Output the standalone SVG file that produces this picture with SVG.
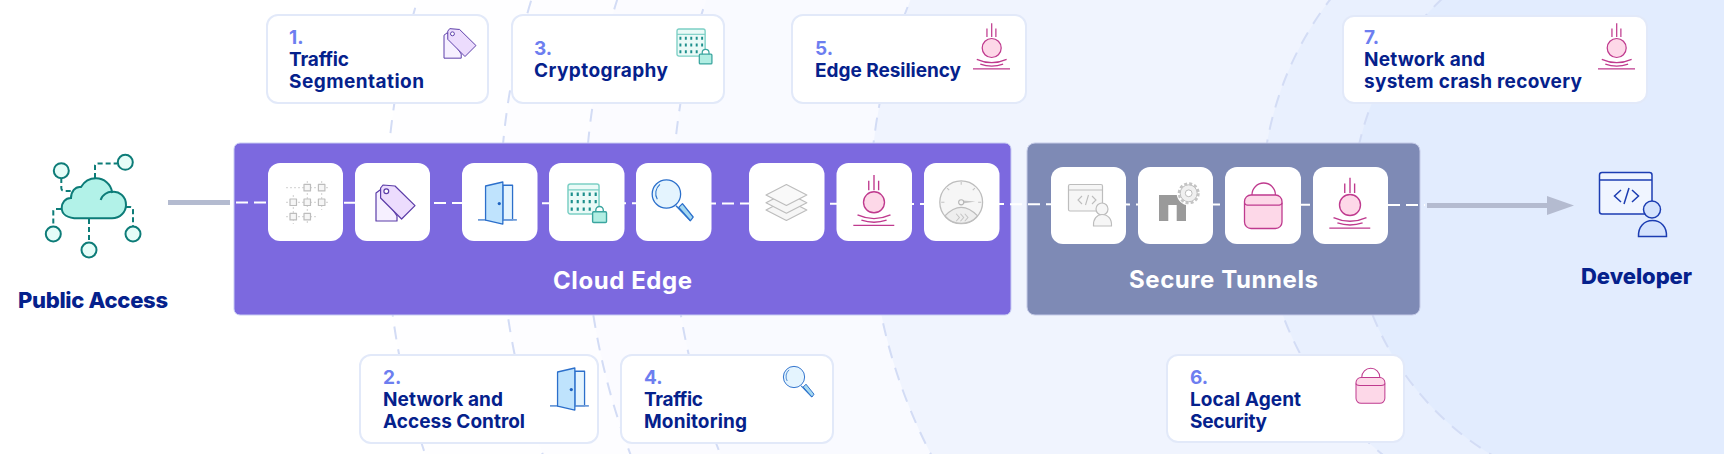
<svg xmlns="http://www.w3.org/2000/svg" xmlns:xlink="http://www.w3.org/1999/xlink" width="1724" height="454" viewBox="0 0 1724 454">
<style>
text{font-family:"Inter","Noto Sans","Liberation Sans",sans-serif}
.t{font-size:19px;font-weight:700;fill:#05218c}
.n{font-size:19px;font-weight:700;fill:#6d7ef0}
.big{font-size:22px;font-weight:800;fill:#05218c}
.pl{font-size:24px;font-weight:700;fill:#fff}
.card{fill:#fff;stroke:#e2e9f9;stroke-width:2}
.tile{fill:#fff}
.arc{stroke:#d3dcf5;stroke-width:2;stroke-dasharray:13 10}
.tag1{fill:#f6f0ff;stroke:#5b3ca8;stroke-width:1.2;stroke-linejoin:round}
.tag2{fill:#ecdcfd;stroke:#5b3ca8;stroke-width:1.2;stroke-linejoin:round}
.blue{fill:#bfe3fd;stroke:#2b6fcb;stroke-width:1.2;stroke-linejoin:round}
.blue2{fill:#e4f4fe;stroke:#2b6fcb;stroke-width:1.2;stroke-linejoin:round}
.pink{fill:#fdd8e8;stroke:#bf3a8e;stroke-width:1.3;stroke-linejoin:round}
.pl2{fill:none;stroke:#bf3a8e;stroke-width:1.3}
.grey{fill:#f6f6f6;stroke:#bdbdbd;stroke-width:1.2;stroke-linejoin:round}
.grl{fill:none;stroke:#c4c4c4;stroke-width:.8;stroke-dasharray:2 2}
.teal{fill:#e5fdf8;stroke:#0d7c78;stroke-width:2}
.tl{fill:none;stroke:#0d7c78;stroke-width:2;stroke-dasharray:5 3}
.dev{fill:#f0f5ff;stroke:#1c3db2;stroke-width:1.5;stroke-linejoin:round}
.dev2{fill:#d5e3fd;stroke:#1c3db2;stroke-width:1.5}
.devl{fill:none;stroke:#1c3db2;stroke-width:1.5}
</style>
<defs>
<g id="i-tag">
<path class="tag1" d="M4,7 L0,10 V38 H21 V33 Z"/>
<path class="tag2" d="M4.6,5 V15 L25.6,36 L39,22.6 L19,3 L7,2 Z"/>
<circle cx="10.3" cy="8.3" r="2.4" fill="#fff" stroke="#5b3ca8" stroke-width="1.2"/>
</g>
<g id="i-door">
<path class="blue2" d="M23,3 H32 V35 H23 Z"/>
<path d="M0,35 H36" stroke="#6d9bd9" stroke-width="1.6" fill="none"/>
<path class="blue" d="M7,3.7 L23,0 V39 L7,35.3 Z"/>
<circle cx="19.7" cy="20" r="1.5" fill="#1e62c0"/>
</g>
<g id="i-crypto">
<rect x="0" y="0" width="29" height="28" rx="2" fill="#eafaf7" stroke="#7ccfc5" stroke-width="1.4"/>
<path d="M0,5.5 H29" stroke="#7ccfc5" stroke-width="1.2"/>
<path d="M2.5,9.5 H27 M2.5,16.5 H27 M2.5,23.5 H24" stroke="#1d8f8c" stroke-width="3.2" stroke-dasharray="2 3.6" fill="none"/>
<path d="M26,27 V24.5 a3.5,3.5 0 0 1 7,0 V27" fill="#fff" stroke="#3aa59f" stroke-width="1.3"/>
<rect x="23" y="26" width="13" height="10" rx="1" fill="#b1eee3" stroke="#3aa59f" stroke-width="1.3"/>
</g>
<g id="i-mag">
<path d="M9,11 L22.5,25" stroke="#2b74cc" stroke-width="1.4"/>
<path class="blue" style="fill:#a5d8f0" d="M11.5,12.5 L15,9 L25,21.5 L22.5,25 Z"/>
<circle class="blue2" r="13.3"/>
<path d="M-8.5,5 A11,11 0 0 1 -6,-9" fill="none" stroke="#2b74cc" stroke-width="1"/>
</g>
<g id="i-ball">
<path class="pl2" d="M0,-26 V-11.5 M-5,-20.5 V-11.5 M4.4,-20.5 V-11.5"/>
<circle class="pink" r="10"/>
<path class="pl2" d="M-15.7,12 Q0,19 15.7,12 M-12,17 Q0,21 12,17 M-19.7,22 H19.3"/>
</g>
<g id="i-lock">
<path class="pl2" d="M7.5,19 V13 a11.7,11.7 0 0 1 23.4,0 V19"/>
<rect class="pink" x="0" y="13.3" width="37.5" height="33.5" rx="6.5"/>
<path class="pl2" d="M0,21 Q0,23.5 5,23.5 H32.5 Q37.5,23.5 37.5,21"/>
</g>
</defs>

<rect width="1724" height="454" fill="#fff"/>
<g id="background">
<circle class="arc" cx="1136" cy="215" r="750" fill="#fefeff"/>
<circle class="arc" cx="1220" cy="210" r="720" fill="#fdfdff"/>
<circle class="arc" cx="1275" cy="208" r="690" fill="#fbfbff"/>
<circle class="arc" cx="1322" cy="208" r="650" fill="#f9faff"/>
<circle class="arc" cx="1410" cy="205" r="540" fill="#f0f4fe"/>
<circle class="arc" cx="1591" cy="200" r="329" fill="#e9f0fe"/>
<circle class="arc" cx="1640" cy="208" r="288" fill="#e2ecfe"/>
</g>

<g id="panel-cloud-edge"><rect x="234" y="143" width="777" height="172" rx="6" fill="#7c69df" stroke="#c8ccf3" stroke-width="1"/></g>
<g id="panel-secure-tunnels"><rect x="1027" y="143" width="393" height="172" rx="8" fill="#7e8ab5" stroke="#c5cbe8" stroke-width="1"/></g>

<g id="connectors">
<path d="M168,202.5 H230" stroke="#b4bbd0" stroke-width="5" fill="none"/>
<path d="M236,202.5 L1425,205" stroke="#fff" stroke-width="2" stroke-dasharray="12 6" fill="none"/>
<path d="M1427,205.5 H1550" stroke="#b4bbd0" stroke-width="5" fill="none"/>
<path d="M1547,196 L1574,205.5 L1547,215 Z" fill="#b4bbd0"/>
</g>

<g id="node-public-access">
<path class="tl" d="M61.3,178 V188 Q61.3,191 65,191 H71 M95,178 V166 Q95,163.5 98,163.5 H117 M61,209 H55 Q53.3,209 53.3,211 V226 M89,219 V242 M126,207 H130 Q133,207 133,210 V226"/>
<path d="M78,218.3 H112 C120,218.3 126,212 126,205 C126,196 119,191 112,192 C111,184 104,178.3 96,178.3 C89,178.3 84,182 81,187 C75,186 71,192 71,198 C65,198 61.7,203 61.7,208 C61.7,214 67,218.3 78,218.3 Z" fill="#b2f2e8" stroke="#0d7c78" stroke-width="2"/>
<path d="M100.7,200 C102,195 108,191 113,192" fill="none" stroke="#0d7c78" stroke-width="2"/>
<circle class="teal" cx="61.3" cy="170.7" r="7.5"/>
<circle class="teal" cx="125.3" cy="162.3" r="7.5"/>
<circle class="teal" cx="53.3" cy="234" r="7.5"/>
<circle class="teal" cx="89" cy="250" r="7.5"/>
<circle class="teal" cx="133" cy="234" r="7.5"/>
<text class="big" x="18" y="308" textLength="150" lengthAdjust="spacing">Public Access</text>
</g>

<g id="tile-fabric">
<rect class="tile" x="268" y="163" width="75" height="78" rx="12"/>
<path class="grl" d="M286,187.7 H330 M286,202.3 H330 M286,216.7 H316 M293.3,195 V224 M307.3,181 V224 M321.7,181 V210"/>
<rect class="grey" x="304" y="184.4" width="6.5" height="6.5"/><rect class="grey" x="318.4" y="184.4" width="6.5" height="6.5"/>
<rect class="grey" x="290" y="199" width="6.5" height="6.5"/><rect class="grey" x="304" y="199" width="6.5" height="6.5"/><rect class="grey" x="318.4" y="199" width="6.5" height="6.5"/>
<rect class="grey" x="290" y="213.4" width="6.5" height="6.5"/><rect class="grey" x="304" y="213.4" width="6.5" height="6.5"/>
</g>
<g id="tile-tag"><rect class="tile" x="355" y="163" width="75" height="78" rx="12"/><use href="#i-tag" x="376" y="183"/></g>
<g id="tile-door"><rect class="tile" x="462" y="163" width="75.5" height="78" rx="12"/><use href="#i-door" transform="translate(478,182) scale(1.08)"/></g>
<g id="tile-crypto"><rect class="tile" x="549" y="163" width="75.5" height="78" rx="12"/><use href="#i-crypto" transform="translate(568,184) scale(1.07)"/></g>
<g id="tile-mag"><rect class="tile" x="636" y="163" width="75.5" height="78" rx="12"/><use href="#i-mag" transform="translate(666.4,194) scale(1.07)"/></g>
<g id="tile-layers">
<rect class="tile" x="749" y="163" width="75.5" height="78" rx="12"/>
<path class="grey" d="M766,210 L786.4,199.5 L806.8,210 L786.4,220.5 Z"/>
<path class="grey" d="M766,202.7 L786.4,192.2 L806.8,202.7 L786.4,213.2 Z"/>
<path class="grey" style="fill:#f9f9f9" d="M766,195 L786.4,184.5 L806.8,195 L786.4,205.5 Z"/>
</g>
<g id="tile-ball"><rect class="tile" x="836.5" y="163" width="75.5" height="78" rx="12"/><use href="#i-ball" transform="translate(874,202.3) scale(1.05)"/></g>
<g id="tile-gauge">
<rect class="tile" x="924" y="163" width="75.5" height="78" rx="12"/>
<g transform="translate(961.2,202.3) scale(1.07) translate(-926.7,-202.3)">
<circle class="grey" cx="926.7" cy="202.3" r="20"/>
<path class="grey" style="fill:#eee" d="M911.5,215 Q926.7,199 942,215 A20,20 0 0 1 911.5,215 Z"/>
<path d="M926.7,183 V186 M908,202.3 H911 M942.5,202.3 H945.5 M913.5,189 L915.5,191 M939.5,189 L937.5,191" stroke="#c4c4c4" fill="none"/>
<path d="M925,200.5 L940,201.5 L925,204 Z" fill="#c4c4c4"/>
<circle cx="926.7" cy="202.3" r="2.4" fill="#f6f6f6" stroke="#b5b5b5"/>
<path d="M922,213 l3,3.5 l-3,3.5 M926,213 l3,3.5 l-3,3.5 M930,213 l3,3.5 l-3,3.5" fill="none" stroke="#c4c4c4"/>
</g>
</g>
<text class="pl" id="label-cloud-edge" x="553" y="289" textLength="139" lengthAdjust="spacing">Cloud Edge</text>

<g id="tile-dev-grey">
<rect class="tile" x="1051" y="167" width="75" height="77" rx="12"/>
<rect class="grey" x="1068.5" y="184.5" width="34" height="26.5" rx="1.5"/>
<path d="M1068.5,190 H1102.5" stroke="#bdbdbd" stroke-width="1.2"/>
<path d="M1082,196 L1078,200 L1082,204 M1092,196 L1096,200 L1092,204 M1088.5,195 L1085.5,205" fill="none" stroke="#bdbdbd" stroke-width="1.1"/>
<circle class="grey" cx="1102" cy="209" r="6"/>
<path class="grey" d="M1093.5,226 C1093,219 1097,214.5 1102,214.5 C1108,214.5 1112,219 1111.5,226 Z"/>
</g>
<g id="tile-n-gear">
<rect class="tile" x="1138" y="167" width="75" height="77" rx="12"/>
<path d="M1159,195 H1178 Q1186,196 1186,205 V221 H1176.7 V205 H1168.3 V221 H1159 Z" fill="#9a9a9a"/>
<circle cx="1188.7" cy="193.3" r="12" fill="#fff"/>
<circle cx="1188.7" cy="193.3" r="8.5" fill="#f0f0f0" stroke="#bdbdbd"/>
<circle cx="1188.7" cy="193.3" r="9.7" fill="none" stroke="#c4c4c4" stroke-width="2.6" stroke-dasharray="3 2.1"/>
<circle cx="1188.7" cy="193.3" r="3.4" fill="#fff" stroke="#bdbdbd"/>
</g>
<g id="tile-lock"><rect class="tile" x="1225" y="167" width="76" height="77" rx="12"/><use href="#i-lock" x="1244.5" y="181.7"/></g>
<g id="tile-ball-2"><rect class="tile" x="1313" y="167" width="75" height="77" rx="12"/><use href="#i-ball" transform="translate(1350,205) scale(1.05)"/></g>
<text class="pl" id="label-secure-tunnels" x="1129" y="288" textLength="189" lengthAdjust="spacing">Secure Tunnels</text>

<g id="node-developer">
<rect class="dev" x="1599.5" y="172.5" width="52.5" height="41.5" rx="2.5"/>
<path class="devl" d="M1599.5,180 H1652"/>
<path class="devl" d="M1621,190 L1614.5,196 L1621,202 M1632,190 L1638.5,196 L1632,202 M1629,188 L1624,204"/>
<circle class="dev2" cx="1652" cy="209.5" r="8.5"/>
<path class="dev2" d="M1638.5,236.5 C1638,227 1644,220.5 1652.5,220.5 C1661,220.5 1667,227 1666.5,236.5 Z"/>
<text class="big" x="1581" y="284" textLength="111" lengthAdjust="spacing">Developer</text>
</g>

<g id="card-1">
<rect class="card" x="267" y="15" width="221" height="88" rx="11"/>
<text class="n" x="289" y="44">1.</text>
<text class="t" x="289" y="66" textLength="60" lengthAdjust="spacing">Traffic</text>
<text class="t" x="289" y="88" textLength="135" lengthAdjust="spacing">Segmentation</text>
<use href="#i-tag" transform="translate(444,27) scale(.82)"/>
</g>
<g id="card-3">
<rect class="card" x="512" y="15" width="212" height="88" rx="11"/>
<text class="n" x="534" y="55">3.</text>
<text class="t" x="534" y="77" textLength="134" lengthAdjust="spacing">Cryptography</text>
<use href="#i-crypto" transform="translate(677,29) scale(.97)"/>
</g>
<g id="card-5">
<rect class="card" x="792" y="15" width="234" height="88" rx="11"/>
<text class="n" x="815" y="55">5.</text>
<text class="t" x="815" y="77" textLength="146" lengthAdjust="spacing">Edge Resiliency</text>
<use href="#i-ball" transform="translate(991.7,48) scale(.95)"/>
</g>
<g id="card-7">
<rect class="card" x="1343" y="16" width="304" height="87" rx="11"/>
<text class="n" x="1364" y="44">7.</text>
<text class="t" x="1364" y="66" textLength="121" lengthAdjust="spacing">Network and</text>
<text class="t" x="1364" y="88" textLength="218" lengthAdjust="spacing">system crash recovery</text>
<use href="#i-ball" transform="translate(1616.7,48) scale(.95)"/>
</g>
<g id="card-2">
<rect class="card" x="360" y="355" width="238" height="88" rx="11"/>
<text class="n" x="383" y="384">2.</text>
<text class="t" x="383" y="406" textLength="120" lengthAdjust="spacing">Network and</text>
<text class="t" x="383" y="428" textLength="142" lengthAdjust="spacing">Access Control</text>
<use href="#i-door" transform="translate(550,368) scale(1.08)"/>
</g>
<g id="card-4">
<rect class="card" x="621" y="355" width="212" height="88" rx="11"/>
<text class="n" x="644" y="384">4.</text>
<text class="t" x="644" y="406" textLength="59" lengthAdjust="spacing">Traffic</text>
<text class="t" x="644" y="428" textLength="103" lengthAdjust="spacing">Monitoring</text>
<use href="#i-mag" transform="translate(794,377) scale(.8)"/>
</g>
<g id="card-6">
<rect class="card" x="1167" y="355" width="237" height="87" rx="11"/>
<text class="n" x="1190" y="384">6.</text>
<text class="t" x="1190" y="406" textLength="111" lengthAdjust="spacing">Local Agent</text>
<text class="t" x="1190" y="428" textLength="77" lengthAdjust="spacing">Security</text>
<use href="#i-lock" transform="translate(1356,367.3) scale(.77)"/>
</g>
</svg>
